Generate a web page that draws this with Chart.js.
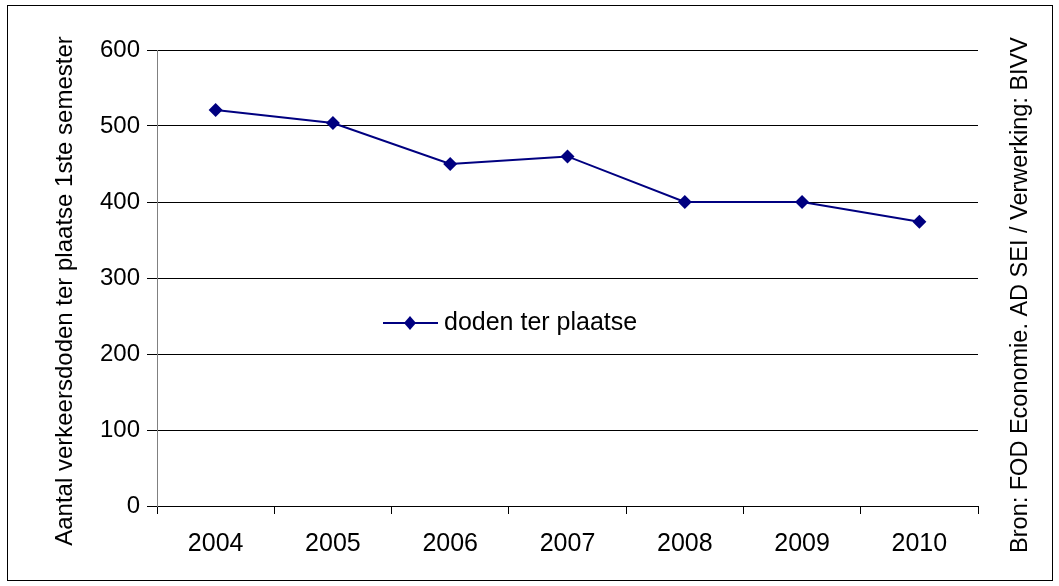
<!DOCTYPE html>
<html lang="nl">
<head>
  <meta charset="UTF-8" />
  <title>Verkeersdoden ter plaatse</title>
  <style>
    body {
      margin: 0;
      background: #fff;
    }
    canvas {
      display: block;
    }
  </style>
  <script src="https://cdn.jsdelivr.net/npm/chart.js"></script>
</head>
<body>
  <canvas id="dodenChart" width="1059" height="586"></canvas>
  <script>
    // Data
    const years = ["2004", "2005", "2006", "2007", "2008", "2009", "2010"];
    const dodenTerPlaatse = [521, 504, 450, 460, 400, 400, 374];
    const seriesLabel = "doden ter plaatse";
    const yTitle = "Aantal verkeersdoden ter plaatse 1ste semester";
    const sourceNote = "Bron: FOD Economie. AD SEI / Verwerking: BIVV";

    const FONT = "'Liberation Sans', Arial, sans-serif";
    const NAVY = "#000080";

    // Border, rotated texts and the legend inside the plot
    const extras = {
      id: "extras",
      afterDraw(chart) {
        const ctx = chart.ctx;
        ctx.save();
        ctx.strokeStyle = "#000";
        ctx.lineWidth = 1;
        ctx.strokeRect(7.5, 5.5, 1045, 575);

        ctx.fillStyle = "#000";
        ctx.textAlign = "center";
        ctx.textBaseline = "alphabetic";

        ctx.save();
        ctx.font = "24px " + FONT;
        ctx.translate(72, 291);
        ctx.rotate(-Math.PI / 2);
        ctx.fillText(yTitle, 0, 0);
        ctx.restore();

        ctx.save();
        ctx.font = "23.5px " + FONT;
        ctx.translate(1027, 295);
        ctx.rotate(-Math.PI / 2);
        ctx.fillText(sourceNote, 0, 0);
        ctx.restore();

        // legend
        const ly = 323;
        ctx.strokeStyle = NAVY;
        ctx.lineWidth = 2;
        ctx.beginPath();
        ctx.moveTo(383, ly);
        ctx.lineTo(438, ly);
        ctx.stroke();
        ctx.fillStyle = NAVY;
        ctx.beginPath();
        ctx.moveTo(410, ly - 7);
        ctx.lineTo(416, ly);
        ctx.lineTo(410, ly + 7);
        ctx.lineTo(404, ly);
        ctx.closePath();
        ctx.fill();
        ctx.fillStyle = "#000";
        ctx.font = "25px " + FONT;
        ctx.textAlign = "left";
        ctx.textBaseline = "middle";
        ctx.fillText(seriesLabel, 444, ly);
        ctx.restore();
      }
    };

    new Chart(document.getElementById("dodenChart"), {
      type: "line",
      data: {
        labels: years,
        datasets: [{
          label: seriesLabel,
          data: dodenTerPlaatse,
          borderColor: NAVY,
          backgroundColor: NAVY,
          borderWidth: 2,
          tension: 0,
          pointStyle: "rectRot",
          pointRadius: 7,
          pointBorderWidth: 0,
          pointBackgroundColor: NAVY
        }]
      },
      options: {
        responsive: false,
        animation: false,
        devicePixelRatio: 1,
        layout: { padding: { top: 50, left: 0, right: 81, bottom: 0 } },
        plugins: {
          legend: { display: false },
          tooltip: { enabled: false }
        },
        scales: {
          x: {
            offset: true,
            grid: {
              offset: true,
              drawOnChartArea: false,
              color: "#000",
              tickLength: 8
            },
            border: { color: "#000" },
            ticks: {
              color: "#000",
              padding: 15,
              font: { family: FONT, size: 25 }
            },
            afterFit(scale) { scale.height = 80; }
          },
          y: {
            min: 0,
            max: 600,
            grid: {
              color: "#000",
              tickLength: 10
            },
            border: { color: "#808080" },
            ticks: {
              stepSize: 100,
              color: "#000",
              padding: 7,
              font: { family: FONT, size: 24 }
            },
            afterFit(scale) { scale.width = 157; }
          }
        }
      },
      plugins: [extras]
    });
  </script>
</body>
</html>
